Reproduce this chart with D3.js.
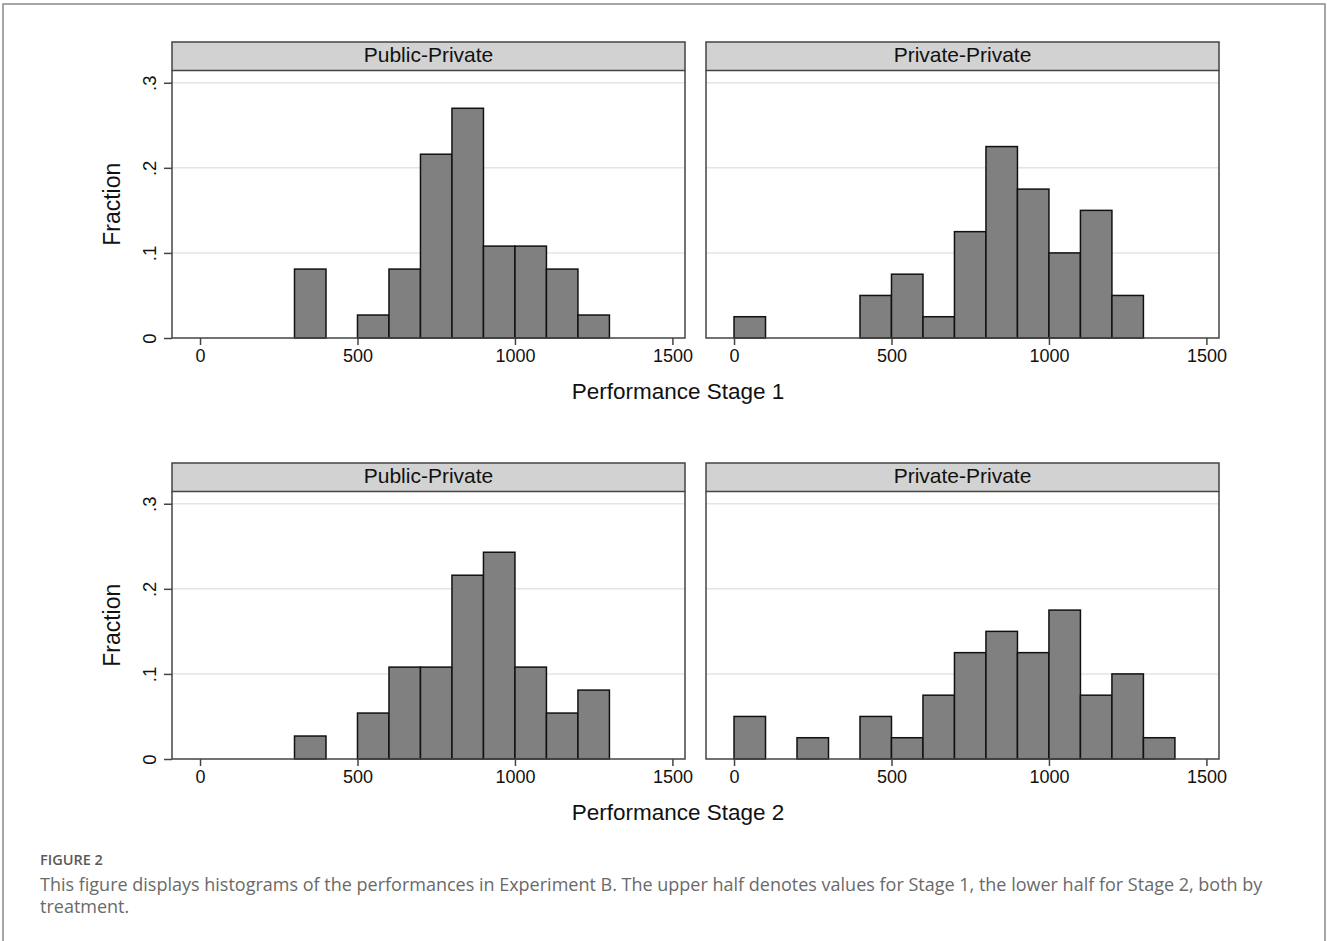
<!DOCTYPE html>
<html>
<head>
<meta charset="utf-8">
<script src="https://cdn.jsdelivr.net/npm/d3@7"></script>
<style>
    body { margin: 0; background: #fff; }
    svg { display: block; }
    .tick text { font-family: "Liberation Sans", Arial, sans-serif; }
</style>
</head>
<body>
<div id="chart"></div>
<script>
// bin starts (width 100) and fractions
const binWidth = 100
const s1PublicStart = [300, 500, 600, 700, 800, 900, 1000, 1100, 1200]
const s1PublicFrac = [0.081, 0.027, 0.081, 0.216, 0.27, 0.108, 0.108, 0.081, 0.027]
const s1PrivateStart = [0, 400, 500, 600, 700, 800, 900, 1000, 1100, 1200]
const s1PrivateFrac = [0.025, 0.05, 0.075, 0.025, 0.125, 0.225, 0.175, 0.1, 0.15, 0.05]
const s2PublicStart = [300, 500, 600, 700, 800, 900, 1000, 1100, 1200]
const s2PublicFrac = [0.027, 0.054, 0.108, 0.108, 0.216, 0.243, 0.108, 0.054, 0.081]
const s2PrivateStart = [0, 200, 400, 500, 600, 700, 800, 900, 1000, 1100, 1200, 1300]
const s2PrivateFrac = [0.05, 0.025, 0.05, 0.025, 0.075, 0.125, 0.15, 0.125, 0.175, 0.075, 0.1, 0.025]

const treatments = ['Public-Private', 'Private-Private']
const stageTitles = ['Performance Stage 1', 'Performance Stage 2']
const xTicks = [0, 500, 1000, 1500]
const yTicks = [0, 0.1, 0.2, 0.3]
const yTickLabels = ['0', '.1', '.2', '.3']
const yTitle = 'Fraction'
const figLabel = 'FIGURE 2'
const captionLines = [
    'This figure displays histograms of the performances in Experiment B. The upper half denotes values for Stage 1, the lower half for Stage 2, both by',
    'treatment.'
]

const panels = [
    { row: 0, col: 0, start: s1PublicStart, frac: s1PublicFrac },
    { row: 0, col: 1, start: s1PrivateStart, frac: s1PrivateFrac },
    { row: 1, col: 0, start: s2PublicStart, frac: s2PublicFrac },
    { row: 1, col: 1, start: s2PrivateStart, frac: s2PrivateFrac }
]

const width = 1327
const height = 941
const font = '"Liberation Sans", Arial, sans-serif'

const colX = [172, 706]
const rowY = [42, 463]
const pW = 513
const headH = 28.5
const plotH = 267.5

const svg = d3.select('#chart').append('svg').attr('width', width).attr('height', height)

// outer frame
svg.append('rect')
    .attr('x', 3).attr('y', 4)
    .attr('width', 1322).attr('height', 960)
    .attr('fill', 'none').attr('stroke', '#8a8a8a').attr('stroke-width', 1.5)

const x = d3.scaleLinear().domain([-89, 1540]).range([0, pW])
const y = d3.scaleLinear().domain([0, 0.3144]).range([plotH, 0])

panels.forEach((p) => {
    const g = svg.append('g').attr('transform', `translate(${colX[p.col]}, ${rowY[p.row] + headH})`)

    // grid
    g.selectAll('.grid')
        .data(yTicks.slice(1))
        .enter()
        .append('line')
        .attr('x1', 0).attr('x2', pW)
        .attr('y1', (d) => y(d)).attr('y2', (d) => y(d))
        .attr('stroke', '#e4e4e4').attr('stroke-width', 1.5)

    // bars
    g.selectAll('.bar')
        .data(p.start.map((s, i) => ({ s, f: p.frac[i] })))
        .enter()
        .append('rect')
        .attr('x', (d) => x(d.s))
        .attr('width', (d) => x(d.s + binWidth) - x(d.s))
        .attr('y', (d) => y(d.f))
        .attr('height', (d) => y(0) - y(d.f))
        .attr('fill', '#808080')
        .attr('stroke', '#111')
        .attr('stroke-width', 1.5)

    // plot frame (left, right, bottom)
    g.append('path')
        .attr('d', `M0,0V${plotH}H${pW}V0`)
        .attr('fill', 'none').attr('stroke', '#444').attr('stroke-width', 1.5)

    // header strip
    svg.append('rect')
        .attr('x', colX[p.col]).attr('y', rowY[p.row])
        .attr('width', pW).attr('height', headH)
        .attr('fill', '#d2d2d2').attr('stroke', '#444').attr('stroke-width', 1.5)
    svg.append('text')
        .attr('x', colX[p.col] + pW / 2).attr('y', rowY[p.row] + 20)
        .attr('text-anchor', 'middle')
        .style('font-family', font).style('font-size', '21px').attr('fill', '#111')
        .text(treatments[p.col])

    // x axis
    const gx = g.append('g').attr('transform', `translate(0, ${plotH})`)
    gx.call(d3.axisBottom(x).tickValues(xTicks).tickSize(7).tickPadding(4).tickFormat(d3.format('d')))
    gx.select('.domain').remove()
    gx.selectAll('line').attr('stroke', '#444').attr('stroke-width', 1.5)
    gx.selectAll('text').style('font-size', '18px').attr('fill', '#111')

    // y axis only on the left column
    if (p.col === 0) {
        const gy = g.append('g')
        gy.call(d3.axisLeft(y).tickValues(yTicks).tickSize(8).tickFormat((d, i) => yTickLabels[i]))
        gy.select('.domain').remove()
        gy.selectAll('line').attr('stroke', '#444').attr('stroke-width', 1.5)
        gy.selectAll('text')
            .attr('x', null).attr('dy', null)
            .attr('text-anchor', 'middle')
            .attr('transform', 'translate(-16, 0) rotate(-90)')
            .style('font-size', '18.5px').attr('fill', '#111')

        g.append('text')
            .attr('transform', `translate(-52, ${plotH / 2}) rotate(-90)`)
            .attr('text-anchor', 'middle')
            .style('font-family', font).style('font-size', '23px').attr('fill', '#111')
            .text(yTitle)
    }
})

// stage titles
stageTitles.forEach((t, i) => {
    svg.append('text')
        .attr('x', 678).attr('y', rowY[i] + headH + plotH + 61)
        .attr('text-anchor', 'middle')
        .style('font-family', font).style('font-size', '22.5px').attr('fill', '#111')
        .text(t)
})

// caption
svg.append('text')
    .attr('x', 40).attr('y', 865)
    .style('font-family', '"Open Sans", sans-serif').style('font-size', '14.5px').style('font-weight', 600)
    .attr('fill', '#5a5a5a')
    .text(figLabel)

captionLines.forEach((t, i) => {
    svg.append('text')
        .attr('x', 40).attr('y', 891 + i * 22)
        .style('font-family', '"Open Sans", sans-serif').style('font-size', '18px')
        .attr('fill', '#6a6a6a')
        .text(t)
})
</script>
</body>
</html>
